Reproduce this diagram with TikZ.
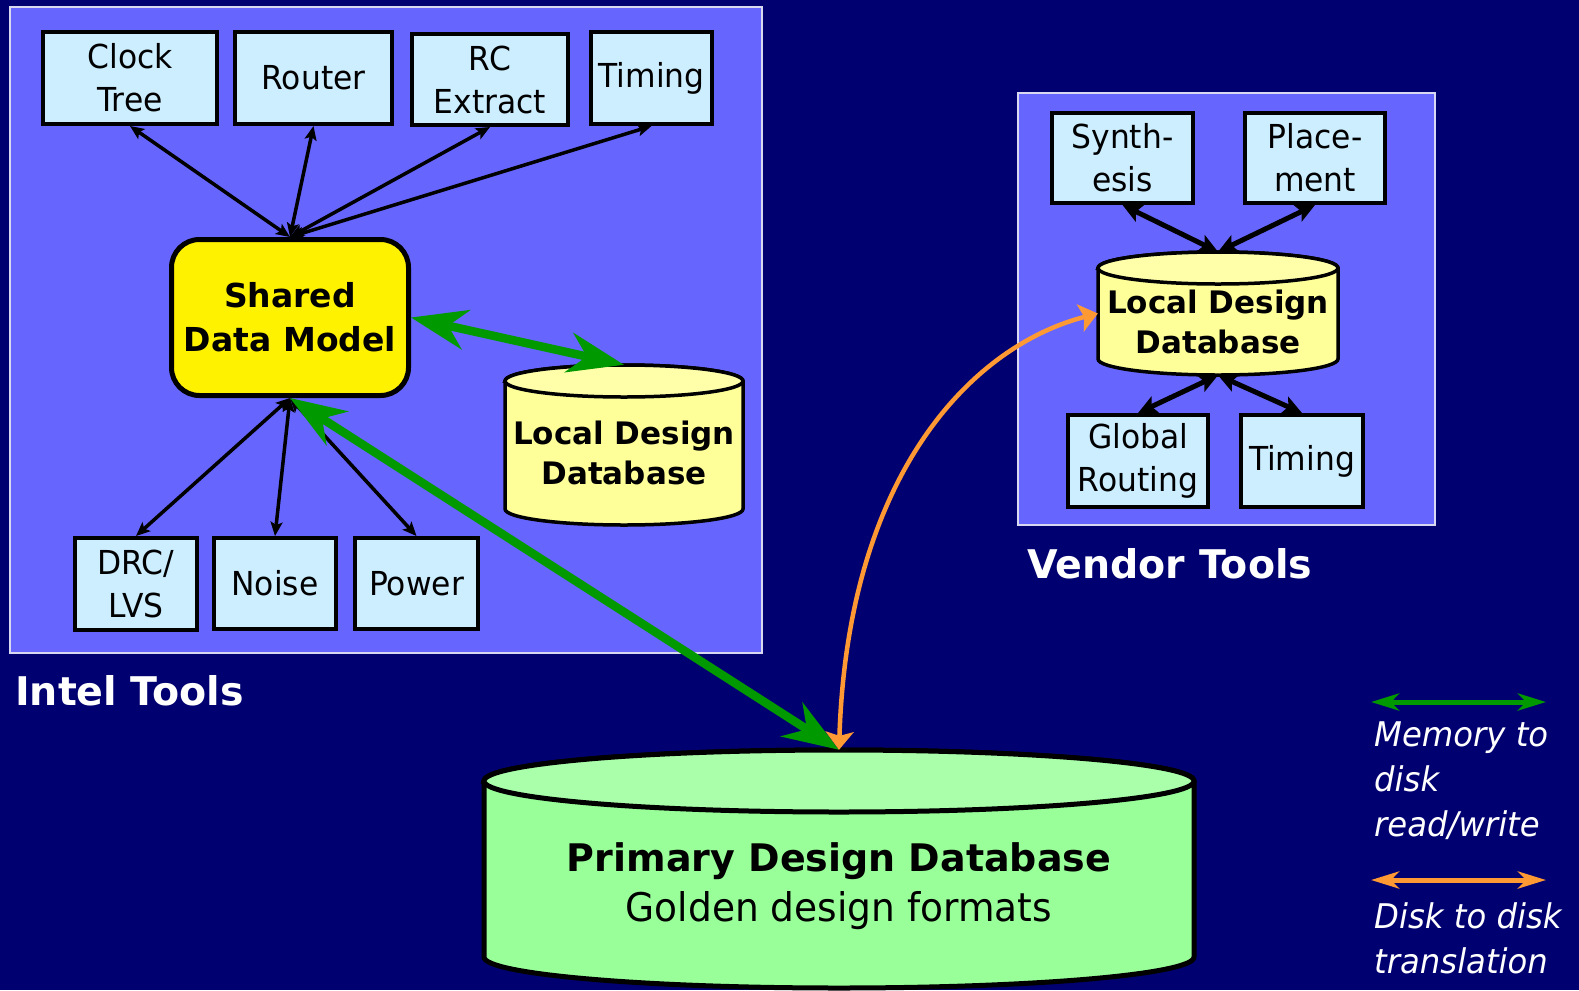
\documentclass[tikz,border=0pt]{standalone}
\usepackage{fontspec}
\setmainfont{DejaVu Sans}
\newfontfamily\narrowfont{DejaVu Sans}[FakeStretch=0.95]
\usetikzlibrary{arrows.meta}

\definecolor{navybg}{HTML}{000070}
\definecolor{panelblue}{HTML}{6666FF}
\definecolor{paneledge}{HTML}{D8D8F0}
\definecolor{toolfill}{HTML}{CCEEFF}
\definecolor{dbyellow}{HTML}{FFFF99}
\definecolor{dbyellowtop}{HTML}{FFFFAA}
\definecolor{primgreen}{HTML}{99FF99}
\definecolor{primgreentop}{HTML}{AAFFAA}
\definecolor{rwgreen}{HTML}{009900}
\definecolor{xlorange}{HTML}{FF9933}

% cylinder: cx, top-ellipse centre y, bottom-ellipse centre y, rx, ry, body, top, line width
\newcommand\drum[8]{%
  \filldraw[fill=#6, line width=#8]
    (#1-#4, #2) -- (#1-#4, #3)
    arc[start angle=180, end angle=360, x radius=#4bp, y radius=#5bp]
    -- (#1+#4, #2)
    arc[start angle=0, end angle=180, x radius=#4bp, y radius=#5bp] -- cycle;
  \filldraw[fill=#7, line width=#8] (#1,#2) ellipse[x radius=#4bp, y radius=#5bp];
}

\begin{document}
\begin{tikzpicture}[x=1bp, y=-1bp,
  panel/.style={fill=panelblue, draw=paneledge, line width=2bp, inner sep=0pt},
  tool/.style={draw=black, line width=4bp, fill=toolfill, inner sep=0pt, align=center,
    font=\narrowfont\fontsize{33bp}{43bp}\selectfont, text=black},
  sdmbox/.style={draw=black, line width=5bp, fill=yellow, rounded corners=28bp,
    inner sep=0pt, align=center, font=\bfseries\fontsize{33bp}{44bp}\selectfont},
  dbtext/.style={align=center, inner sep=0pt, font=\bfseries\fontsize{31bp}{40bp}\selectfont},
  dbframe/.style={inner sep=0pt},
  title/.style={text=white, inner sep=0pt, anchor=west, font=\bfseries\fontsize{39.5bp}{46bp}\selectfont},
  legendtext/.style={text=white, inner sep=0pt, anchor=west, align=left,
    font=\narrowfont\itshape\fontsize{34bp}{45bp}\selectfont},
  link/.style={line width=3.5bp,
    {Stealth[length=14bp,width=12bp,inset=3bp]}-{Stealth[length=14bp,width=12bp,inset=3bp]}},
  vlink/.style={line width=5bp,
    {Stealth[length=19bp,width=18bp,inset=4bp]}-{Stealth[length=19bp,width=18bp,inset=4bp]}},
  rw/.style={draw=rwgreen, line width=8.5bp,
    {Stealth[length=56bp,width=40bp,inset=18bp]}-{Stealth[length=56bp,width=40bp,inset=18bp]}},
  xlate/.style={draw=xlorange, line width=4.5bp,
    {Stealth[length=18bp,width=28bp,inset=4bp]}-{Stealth[length=18bp,width=28bp,inset=4bp]}},
  rwkey/.style={draw=rwgreen, line width=5bp,
    {Stealth[length=28bp,width=17bp,inset=8bp]}-{Stealth[length=28bp,width=17bp,inset=8bp]}},
  xlkey/.style={draw=xlorange, line width=5bp,
    {Stealth[length=28bp,width=17bp,inset=8bp]}-{Stealth[length=28bp,width=17bp,inset=8bp]}},
]
\useasboundingbox (0,0) rectangle (1579,990);
\fill[navybg] (0,0) rectangle (1579,990);

% tool panels
\node[panel, minimum width=752bp, minimum height=646bp] (intelpanel) at (386,330) {};
\node[panel, minimum width=417bp, minimum height=432bp] (vendorpanel) at (1226.5,309) {};
\node[title] (inteltitle) at (15,691) {Intel Tools};
\node[title] (vendortitle) at (1027,564) {Vendor Tools};

% Intel tools
\node[tool, minimum width=174bp, minimum height=92bp] (clock) at (130,78) {Clock\\Tree};
\node[tool, minimum width=157bp, minimum height=92bp] (router) at (313.5,78) {Router};
\node[tool, minimum width=156bp, minimum height=91bp] (rc) at (490,79.5) {RC\\Extract};
\node[tool, minimum width=121bp, minimum height=92bp] (timing) at (651.5,78) {Timing};
\node[tool, minimum width=122bp, minimum height=92bp] (drc) at (136,584) {DRC/\\LVS};
\node[tool, minimum width=122bp, minimum height=91bp] (noise) at (275,583.5) {Noise};
\node[tool, minimum width=123bp, minimum height=91bp] (power) at (416.5,583.5) {Power};

\node[sdmbox, minimum width=237bp, minimum height=156bp] (sdm) at (290,317.5) {Shared\\Data Model};

% local database (Intel side)
\drum{624}{381}{509}{119}{16}{dbyellow}{dbyellowtop}{3.5bp}
\node[dbframe, minimum width=238bp, minimum height=160bp] (ldb) at (624,445) {};
\node[dbtext] (ldbtext) at (624,453) {Local Design\\Database};

% vendor tools
\node[tool, minimum width=141bp, minimum height=90bp] (synth) at (1122.5,158) {Synth-\\esis};
\node[tool, minimum width=140bp, minimum height=90bp] (place) at (1315,158) {Place-\\ment};
\node[tool, minimum width=140bp, minimum height=92bp] (groute) at (1138,461) {Global\\Routing};
\node[tool, minimum width=122bp, minimum height=92bp] (vtiming) at (1302,461) {Timing};

\drum{1218}{268}{359}{120}{16}{dbyellow}{dbyellowtop}{3.5bp}
\node[dbframe, minimum width=240bp, minimum height=123bp] (vdb) at (1218,313.5) {};
\node[dbtext] (vdbtext) at (1218,322) {Local Design\\Database};

% primary database
\drum{839}{781}{957}{355}{31}{primgreen}{primgreentop}{5bp}
\node[dbframe, minimum width=710bp, minimum height=238bp] (primary) at (839,869) {};
\node[align=center, inner sep=0pt, font=\fontsize{38bp}{50bp}\selectfont] (primtext) at (839,886)
  {{\bfseries Primary Design Database}\\{\narrowfont\fontsize{39.5bp}{50bp}\selectfont Golden design formats}};

% shared data model links
\draw[link] (sdm.north) -- (clock.south);
\draw[link] (sdm.north) -- (router.south);
\draw[link] (sdm.north) -- (rc.south);
\draw[link] (sdm.north) -- (timing.south);
\draw[link] (sdm.south) -- (drc.north);
\draw[link] (sdm.south) -- (noise.north);
\draw[link] (sdm.south) -- (power.north);

% vendor database links
\draw[vlink] (synth.south) -- (vdb.north);
\draw[vlink] (place.south) -- (vdb.north);
\draw[vlink] (vdb.south) -- (groute.north);
\draw[vlink] (vdb.south) -- (vtiming.north);

% memory-to-disk and disk-to-disk traffic
\draw[rw] (sdm.east) -- (ldb.north);
\draw[rw] (sdm.south) -- (primary.north);
\draw[xlate] (primary.north) .. controls (848,470) and (975,345) .. (vdb.west);

% key
\coordinate (rwkeyA) at (1371,702);
\coordinate (rwkeyB) at (1546,702);
\draw[rwkey] (rwkeyA) -- (rwkeyB);
\node[legendtext] (rwkeytext) at (1374,781) {Memory to\\disk\\read/write};
\coordinate (xlkeyA) at (1371,880);
\coordinate (xlkeyB) at (1546,880);
\draw[xlkey] (xlkeyA) -- (xlkeyB);
\node[legendtext] (xlkeytext) at (1374,938) {Disk to disk\\translation};
\end{tikzpicture}
\end{document}
